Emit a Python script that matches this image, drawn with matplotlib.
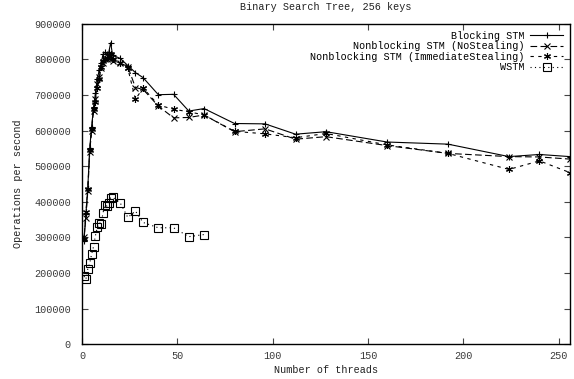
import numpy as np
from matplotlib import pyplot as plt
import matplotlib
matplotlib.rcParams['font.family'] = 'Liberation Mono'
matplotlib.rcParams['font.size'] = 7.3

threads = [1, 2, 3, 4, 5, 6, 7, 8, 9, 10, 11, 12, 13, 14, 15, 16,
           20, 24, 28, 32, 40, 48, 56, 64, 80, 96, 112, 128, 160, 192, 224, 240, 256]
threads_wstm = [1, 2, 3, 4, 5, 6, 7, 8, 9, 10, 11, 12, 13, 14, 15, 16,
                20, 24, 28, 32, 40, 48, 56, 64]

blocking = [290000, 365000, 440000, 550000, 610000, 665000, 705000, 745000,
            770000, 790000, 815000, 820000, 815000, 820000, 847000, 812000,
            803000, 783000, 763000, 749000, 701000, 702000, 655000, 662000,
            620000, 619000, 590000, 597000, 568000, 562000, 527000, 533000, 527000]
nostealing = [300000, 355000, 430000, 540000, 600000, 655000, 690000, 730000,
              750000, 775000, 790000, 800000, 800000, 805000, 810000, 795000,
              790000, 780000, 721000, 716000, 669000, 636000, 637000, 644000,
              597000, 605000, 576000, 583000, 558000, 536000, 527000, 526000, 520000]
immediate = [295000, 370000, 435000, 545000, 605000, 660000, 680000, 720000,
             745000, 780000, 795000, 800000, 805000, 810000, 815000, 800000,
             790000, 775000, 688000, 720000, 672000, 660000, 653000, 644000,
             598000, 591000, 580000, 592000, 560000, 536000, 491000, 515000, 482000]
wstm = [191000, 182000, 212000, 227000, 253000, 274000, 305000, 328000,
        341000, 339000, 369000, 391000, 388000, 396000, 411000, 413000,
        397000, 356000, 374000, 342000, 327000, 327000, 302000, 308000]

fig = plt.figure(figsize=(5.74, 3.79), dpi=100)
ax = fig.add_axes([0.143, 0.092, 0.85, 0.845])

ax.plot(threads, blocking, color='black', lw=0.8, marker='+', ms=5, mew=0.8,
        label='Blocking STM')
ax.plot(threads, nostealing, color='black', lw=0.8, dashes=(6, 3), marker='x', ms=4, mew=0.8,
        label='Nonblocking STM (NoStealing)')
ax.plot(threads, immediate, color='black', lw=0.8, dashes=(3, 4), marker=(6, 2, 0), ms=5, mew=0.8,
        label='Nonblocking STM (ImmediateStealing)')
ax.plot(threads_wstm, wstm, color='black', lw=0.8, dashes=(1, 3), marker='s', ms=5.5, mew=0.8,
        mfc='none', label='WSTM')

ax.set_xlim(0, 256)
ax.set_ylim(0, 900000)
ax.set_xticks([0, 50, 100, 150, 200, 250])
ax.set_yticks(np.arange(0, 900001, 100000))
ax.yaxis.set_major_formatter(matplotlib.ticker.FormatStrFormatter('%d'))
ax.tick_params(axis='both', direction='in', top=True, right=True, length=4, width=0.8,
               labelsize=7.3, colors='#444444', labelcolor='#3a3a3a')
ax.tick_params(axis='x', pad=5)
ax.tick_params(axis='y', pad=8)
for s in ax.spines.values():
    s.set_linewidth(1.0)

ax.set_title('Binary Search Tree, 256 keys', fontsize=7.3, pad=10, color='#222222')
ax.set_xlabel('Number of threads', fontsize=7.3, labelpad=3, color='#222222')
ax.set_ylabel('Operations per second', fontsize=7.3, labelpad=8, color='#222222')

ax.legend(loc='upper right', markerfirst=False, frameon=False, fontsize=7.3,
          handlelength=3.2, labelspacing=0.05, borderaxespad=0.3, handletextpad=0.6)

fig.savefig('out.png', dpi=100)
